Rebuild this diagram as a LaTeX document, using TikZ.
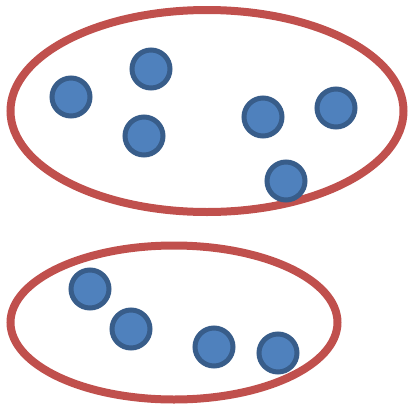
\documentclass[tikz,border=0pt]{standalone}
\usepackage{tikz}
\definecolor{grpred}{HTML}{C0504D}
\definecolor{dotblue}{HTML}{4F81BD}
\definecolor{dotedge}{HTML}{385D8A}
\tikzset{
  group/.style={draw=grpred,line width=8pt},
  dot/.style={circle,draw=dotedge,fill=dotblue,line width=5pt,minimum size=38pt,inner sep=0pt}
}
\begin{document}
\begin{tikzpicture}[x=1pt,y=-1pt]
\useasboundingbox (0,0) rectangle (408,408);
% the two groups
\draw[group] (207,111) ellipse [x radius=196.5,y radius=101];
\draw[group] (174,322.5) ellipse [x radius=163.5,y radius=77];

% upper group
\node[dot] (u1) at (71,97) {};
\node[dot] (u2) at (151,69) {};
\node[dot] (u3) at (144,136) {};
\node[dot] (u4) at (263,117) {};
\node[dot] (u5) at (336,108) {};
\node[dot] (u6) at (286,181) {};

% lower group
\node[dot] (l1) at (90,289) {};
\node[dot] (l2) at (131,329) {};
\node[dot] (l3) at (214,347) {};
\node[dot] (l4) at (278,353) {};
\end{tikzpicture}
\end{document}
